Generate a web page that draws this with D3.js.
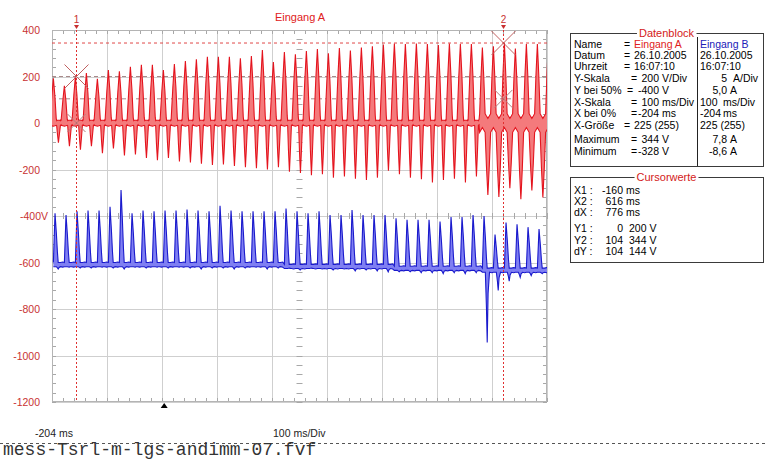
<!DOCTYPE html>
<html><head><meta charset="utf-8">
<script src="https://cdn.jsdelivr.net/npm/d3@7"></script>
<style>
html,body{margin:0;padding:0;background:#fff;}
svg{display:block;font-family:"Liberation Sans",Arial,sans-serif;}
</style></head>
<body>
<svg id="chart" width="765" height="461"></svg>
<script>
// ---------------- DATA ----------------
const xDomainMs = [-204, 696];          // X bei 0% = -204 ms, 100 ms/Div, 9 Div
const yDomainV = [-1200, 400];          // 200 V/Div
const yTickValues = [400, 200, 0, -200, -400, -600, -800, -1000, -1200];
const yTickLabels = ["400", "200", "0", "-200", "-400V", "-600", "-800", "-1000", "-1200"];
const bDomainA = [-15, 25];             // Eingang B: 5 A/Div, 5,0 A at 50%

const periodMs = 20;
const redFirstPeakMs = -201.5;
const blueFirstPeakMs = -198.5;
const redWideFrom = 39;                 // cycle where the voltage swing becomes symmetric

// Eingang A (V) per cycle: positive peak and negative trough
const redPeak = [192,160,200,215,190,228,222,242,250,250,228,254,266,274,285,285,285,278,288,314,262,
                 305,296,310,318,300,322,312,325,330,
                 338,342,340,342,340,335,342,340,340,325,330,344,320,340,340,342];
const redTrough = [-85,-100,-115,-100,-130,-110,-140,-135,-150,-160,-150,-165,-170,-175,-180,-178,-185,-190,-195,-200,-190,
                   -210,-215,-225,-220,-235,-230,-240,-245,-235,
                   -205,-220,-235,-242,-256,-245,-240,-256,-230,-310,-318,-280,-328,-290,-320,-315];

// Eingang B (A) per cycle: peak, floor between pulses, lowest dip
const bluePeak = [5.3,5.1,5.5,5.6,5.6,6.0,7.8,5.3,5.6,5.5,5.6,5.6,5.7,5.6,5.5,6.1,5.6,5.5,5.5,5.5,5.5,
                  5.8,5.5,5.3,5.5,5.1,5.1,5.65,5.1,5.1,5.1,4.75,4.6,4.6,4.6,4.4,4.9,4.9,5.1,5.0,3.0,4.3,4.1,3.8,3.6,3.4];
const blueFloor = [0.0,0.0,0.0,0.0,0.0,0.0,0.0,0.0,0.0,0.0,0.0,0.0,0.0,0.0,0.0,0.0,0.0,0.0,0.0,0.0,0.0,
                   -0.2,-0.2,-0.2,-0.2,-0.2,-0.2,-0.2,-0.2,-0.2,-0.2,-0.4,-0.4,-0.4,-0.4,-0.4,-0.4,-0.4,-0.4,-0.6,-0.6,-0.6,-0.6,-0.6,-0.6,-0.6];
const blueTrough = [-0.7,-0.5,-0.6,-0.6,-0.5,-0.6,-0.7,-0.5,-0.6,-0.5,-0.6,-0.5,-0.6,-0.7,-0.6,-0.6,-0.7,-0.6,-0.5,-0.7,-0.6,
                    -0.6,-0.8,-0.6,-0.7,-0.8,-0.7,-0.9,-0.8,-0.9,-1.0,-1.0,-1.0,-1.1,-1.1,-1.2,-1.1,-1.2,-1.1,-8.6,-3.0,-2.0,-1.6,-1.4,-1.2,-1.0];

// cursors
const cursorX = [-160, 616];
const cursorYBig = [200, 344];
const cursorYSmall = [0, 104];
const cursorNames = ["1", "2"];
const triggerMs = 0;

// Datenblock
const dbLabels = ["Name","Datum","Uhrzeit","Y-Skala","Y bei 50%","X-Skala","X bei 0%","X-Größe","Maximum","Minimum"];
const dbNumA  = ["Eingang A","26.10.2005","16:07:10","200","-400","100","-204","225 (255)","344","-328"];
const dbUnitA = ["","","","V/Div","V","ms/Div","ms","","V","V"];
const dbNumB  = ["Eingang B","26.10.2005","16:07:10","5","5,0","100","-204","225 (255)","7,8","-8,6"];
const dbUnitB = ["","","","A/Div","A","ms/Div","ms","","A","A"];

// Cursorwerte
const cwLabels = ["X1 :","X2 :","dX :","Y1 :","Y2 :","dY :"];
const cwNum1  = ["-160","616","776","0","104","104"];
const cwUnit1 = ["ms","ms","ms","","",""];
const cwVal2  = ["","","","200 V","344 V","144 V"];

const titleText = "Eingang A";
const xStartLabel = "-204 ms";
const xScaleLabel = "100 ms/Div";
const fileName = "mess-Tsrl-m-lgs-andimm-07.fvf";

// ---------------- DRAW ----------------
const svg = d3.select("#chart");
const L = 52, R = 547, T = 30, B = 402;
const x = d3.scaleLinear().domain(xDomainMs).range([L, R]);
const y = d3.scaleLinear().domain(yDomainV).range([B, T]);
const yb = d3.scaleLinear().domain(bDomainA).range([B, T]);

svg.append("defs").append("clipPath").attr("id","plotclip")
  .append("rect").attr("x", L).attr("y", T).attr("width", R - L).attr("height", B - T);

const gridCol = "#cfcfcf", tickCol = "#a8a8a8";
const g = svg.append("g");

// grid
const xGrid = d3.range(xDomainMs[0], xDomainMs[1] + 1, 100);
g.selectAll("line.vg").data(xGrid).join("line")
  .attr("x1", d => Math.round(x(d)) + 0.5).attr("x2", d => Math.round(x(d)) + 0.5)
  .attr("y1", T).attr("y2", B).attr("stroke", gridCol);
g.selectAll("line.hg").data(yTickValues).join("line")
  .attr("x1", L).attr("x2", R)
  .attr("y1", d => Math.round(y(d)) + 0.5).attr("y2", d => Math.round(y(d)) + 0.5).attr("stroke", gridCol);

// minor ticks
const xMinor = d3.range(xDomainMs[0], xDomainMs[1] + 0.1, 20);
const yMinor = d3.range(yDomainV[0], yDomainV[1] + 0.1, 40);
const xc = (x.range()[0] + x.range()[1]) / 2, yc = y(-400);
const tk = g.append("g").attr("stroke", tickCol);
xMinor.forEach(t => {
  const px = Math.round(x(t)) + 0.5;
  tk.append("line").attr("x1", px).attr("x2", px).attr("y1", T).attr("y2", T + 4);
  tk.append("line").attr("x1", px).attr("x2", px).attr("y1", B - 4).attr("y2", B);
  tk.append("line").attr("x1", px).attr("x2", px).attr("y1", yc - 3).attr("y2", yc + 3);
});
yMinor.forEach(v => {
  const py = Math.round(y(v)) + 0.5;
  tk.append("line").attr("x1", L).attr("x2", L + 4).attr("y1", py).attr("y2", py);
  tk.append("line").attr("x1", R - 4).attr("x2", R).attr("y1", py).attr("y2", py);
  tk.append("line").attr("x1", xc - 3).attr("x2", xc + 3).attr("y1", py).attr("y2", py);
});

// plot border
g.append("rect").attr("x", L + 0.5).attr("y", T + 0.5).attr("width", R - L - 1).attr("height", B - T - 1)
  .attr("fill", "none").attr("stroke", "#b4b4b4");

// horizontal cursor lines (behind waveforms)
g.append("line").attr("x1", L).attr("x2", R).attr("y1", y(cursorYBig[1])).attr("y2", y(cursorYBig[1]))
  .attr("stroke", "#e04848").attr("stroke-dasharray", "3,3");
g.append("line").attr("x1", L).attr("x2", R).attr("y1", y(cursorYBig[0])).attr("y2", y(cursorYBig[0]))
  .attr("stroke", "#a88a8a").attr("stroke-dasharray", "4,3");
g.append("line").attr("x1", L).attr("x2", R).attr("y1", y(cursorYSmall[1])).attr("y2", y(cursorYSmall[1]))
  .attr("stroke", "#a88a8a").attr("stroke-dasharray", "4,3");

// ---- Eingang A waveform (min/max band) ----
const redPts = [];
redPeak.forEach((P, i) => {
  const tp = redFirstPeakMs + i * periodMs, Tr = redTrough[i];
  const tpl = i < redWideFrom
    ? [[-0.3, 10, -10], [-0.14, 0.6 * P, -12], [0, P, -14], [0.14, 0.6 * P, -12], [0.26, 0.1 * P, -10],
       [0.30, 10, -12], [0.37, 12, 0.55 * Tr], [0.46, 12, Tr], [0.56, 12, 0.5 * Tr], [0.64, 10, -10], [0.70, 16, -8]]
    : [[-0.25, 40, -40], [-0.13, 0.6 * P, -30], [0, P, -20], [0.13, 0.6 * P, -30], [0.25, 40, -40],
       [0.37, 30, 0.6 * Tr], [0.5, 20, Tr], [0.63, 30, 0.6 * Tr]];
  tpl.forEach(([f, hi, lo]) => redPts.push({t: tp + f * periodMs, hi, lo}));
});
const pg = svg.append("g").attr("clip-path", "url(#plotclip)");
pg.append("path").datum(redPts)
  .attr("d", d3.area().x(d => x(d.t)).y0(d => y(d.lo)).y1(d => y(d.hi)))
  .attr("fill", "#f47a7c");
["hi", "lo"].forEach(k => pg.append("path").datum(redPts)
  .attr("d", d3.line().x(d => x(d.t)).y(d => y(d[k])))
  .attr("fill", "none").attr("stroke", "#e4141e").attr("stroke-width", 1.1));

// ---- Eingang B waveform (min/max band) ----
const bluePts = [];
bluePeak.forEach((P, i) => {
  const tp = blueFirstPeakMs + i * periodMs, bf = blueFloor[i], tr = blueTrough[i];
  const h = P - bf, lo0 = bf - 0.45;
  [[-0.15, bf, lo0], [-0.06, bf + 0.6 * h, lo0], [0, P, lo0], [0.12, bf + 0.6 * h, lo0],
   [0.22, bf + 0.2 * h, lo0 + (tr - lo0) * 0.5], [0.29, bf, tr], [0.37, bf, lo0 + (tr - lo0) * 0.3],
   [0.5, bf, lo0], [0.7, bf + 0.05, lo0 - 0.05]]
    .forEach(([f, hi, lo]) => bluePts.push({t: tp + f * periodMs, hi, lo}));
});
pg.append("path").datum(bluePts)
  .attr("d", d3.area().x(d => x(d.t)).y0(d => yb(d.lo)).y1(d => yb(d.hi)))
  .attr("fill", "#7f7ff2");
["hi", "lo"].forEach(k => pg.append("path").datum(bluePts)
  .attr("d", d3.line().x(d => x(d.t)).y(d => yb(d[k])))
  .attr("fill", "none").attr("stroke", "#1a1acc").attr("stroke-width", 1.1));

// ---- cursors ----
cursorX.forEach((cx, k) => {
  const px = Math.round(x(cx)) + 0.5;
  svg.append("line").attr("x1", px).attr("x2", px).attr("y1", T).attr("y2", B)
    .attr("stroke", "#e03030").attr("stroke-dasharray", "2,2");
  svg.append("text").attr("x", px).attr("y", 23).attr("text-anchor", "middle")
    .attr("font-size", 10).attr("fill", "#c83030").text(cursorNames[k]);
  svg.append("path").attr("d", `M${px - 2.5},25 L${px + 2.5},25 L${px},29 Z`).attr("fill", "#c83030");
  const by = y(cursorYBig[k]);
  svg.append("path").attr("d", `M${px - 12},${by - 12} L${px + 12},${by + 12} M${px - 12},${by + 12} L${px + 12},${by - 12}`)
    .attr("stroke", "#c06060").attr("fill", "none");
  const sy = y(cursorYSmall[k]);
  svg.append("path").attr("d", `M${px - 9},${sy - 9} L${px + 9},${sy + 9} M${px - 9},${sy + 9} L${px + 9},${sy - 9}`)
    .attr("stroke", "#b08080").attr("fill", "none");
});

// trigger marker
const trx = x(triggerMs);
svg.append("path").attr("d", `M${trx - 3.5},${B + 6} L${trx + 3.5},${B + 6} L${trx},${B + 1} Z`).attr("fill", "#000");

// y labels
svg.selectAll("text.yl").data(yTickValues).join("text")
  .attr("x", (d, i) => yTickLabels[i].endsWith("V") ? 48 : 40)
  .attr("y", d => y(d) + 4).attr("text-anchor", "end")
  .attr("font-size", 10.5).attr("fill", "#c83232")
  .text((d, i) => yTickLabels[i]);

// title
svg.append("text").attr("x", 300).attr("y", 21).attr("text-anchor", "middle")
  .attr("font-size", 11).attr("fill", "#e02020").text(titleText);

// bottom labels
svg.append("text").attr("x", 35).attr("y", 437).attr("font-size", 10.5).attr("fill", "#222").text(xStartLabel);
svg.append("text").attr("x", 273).attr("y", 437).attr("font-size", 10.5).attr("fill", "#222").text(xScaleLabel);
svg.append("line").attr("x1", 0).attr("x2", 765).attr("y1", 443.5).attr("y2", 443.5)
  .attr("stroke", "#555").attr("stroke-dasharray", "3,3");
svg.append("text").attr("x", 3).attr("y", 455).attr("font-family", "'Liberation Mono','Courier New',monospace")
  .attr("font-size", 18).attr("fill", "#333").text(fileName);

// ---- panels ----
const fs = 10.5;
function groupBox(x0, y0, x1, y1, title) {
  svg.append("rect").attr("x", x0 + 0.5).attr("y", y0 + 0.5).attr("width", x1 - x0).attr("height", y1 - y0)
    .attr("fill", "#fff").attr("stroke", "#3a3a3a");
  const t = svg.append("text").attr("x", (x0 + x1) / 2).attr("y", y0 + 4).attr("text-anchor", "middle")
    .attr("font-size", 11).attr("fill", "#d42020").text(title);
  const bb = t.node().getBBox();
  svg.insert("rect", () => t.node()).attr("x", bb.x - 2).attr("y", y0 - 2).attr("width", bb.width + 4).attr("height", 5).attr("fill", "#fff");
}
groupBox(570, 33, 763, 166, "Datenblock");
svg.append("line").attr("x1", 697.5).attr("x2", 697.5).attr("y1", 37).attr("y2", 166).attr("stroke", "#222");
const dbRowY = [44, 55, 66, 78, 90, 102, 113, 125, 139, 151];
dbLabels.forEach((lab, i) => {
  const yy = dbRowY[i] + 4;
  svg.append("text").attr("x", 574).attr("y", yy).attr("font-size", fs).attr("fill", "#000").text(lab);
  if (dbUnitA[i]) {
    svg.append("text").attr("x", i === 4 ? 627 : 631).attr("y", yy).attr("font-size", fs).text("=");
    svg.append("text").attr("x", 659).attr("y", yy).attr("font-size", fs).attr("text-anchor", "end").text(dbNumA[i]);
    svg.append("text").attr("x", 662).attr("y", yy).attr("font-size", fs).text(dbUnitA[i]);
  } else {
    svg.append("text").attr("x", 624).attr("y", yy).attr("font-size", fs).text("=");
    svg.append("text").attr("x", 634).attr("y", yy).attr("font-size", fs)
      .attr("fill", i === 0 ? "#e02020" : "#000").text(dbNumA[i]);
  }
  const uB = dbUnitB[i];
  if (uB.startsWith("A")) {
    svg.append("text").attr("x", 727).attr("y", yy).attr("font-size", fs).attr("text-anchor", "end").text(dbNumB[i]);
    svg.append("text").attr("x", uB === "A" ? 730 : 733).attr("y", yy).attr("font-size", fs).text(uB);
  } else if (uB) {
    svg.append("text").attr("x", 700).attr("y", yy).attr("font-size", fs).text(dbNumB[i]);
    svg.append("text").attr("x", 723).attr("y", yy).attr("font-size", fs).text(uB);
  } else {
    svg.append("text").attr("x", 700).attr("y", yy).attr("font-size", fs)
      .attr("fill", i === 0 ? "#2020b8" : "#000").text(dbNumB[i]);
  }
});

groupBox(570, 177, 763, 262, "Cursorwerte");
const cwRowY = [190, 201, 212, 228, 240, 251];
cwLabels.forEach((lab, i) => {
  const yy = cwRowY[i] + 4;
  svg.append("text").attr("x", 574).attr("y", yy).attr("font-size", fs).text(lab);
  svg.append("text").attr("x", 623).attr("y", yy).attr("font-size", fs).attr("text-anchor", "end").text(cwNum1[i]);
  if (cwUnit1[i]) svg.append("text").attr("x", 626).attr("y", yy).attr("font-size", fs).text(cwUnit1[i]);
  if (cwVal2[i]) svg.append("text").attr("x", 629).attr("y", yy).attr("font-size", fs).text(cwVal2[i]);
});
</script>
</body></html>
